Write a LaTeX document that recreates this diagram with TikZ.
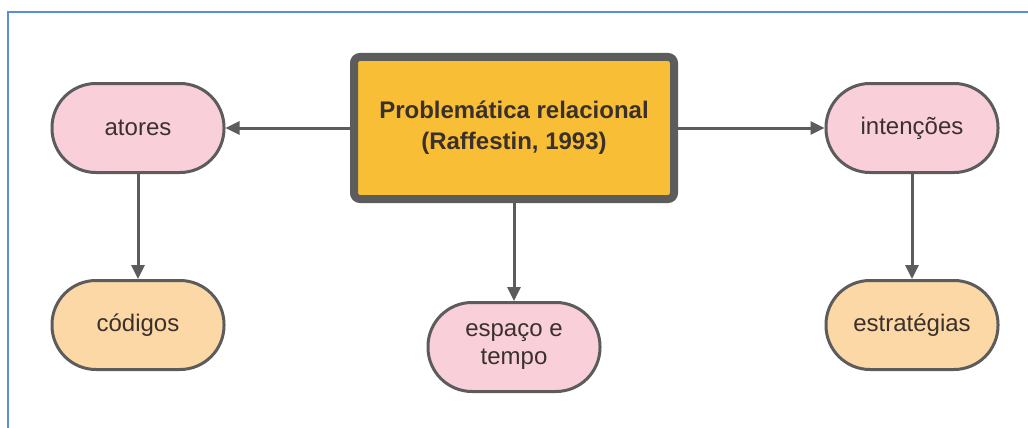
\documentclass[tikz,border=0pt]{standalone}
\usepackage{fontspec}
\setmainfont{Liberation Sans}
\usetikzlibrary{arrows.meta}
\definecolor{pinkfill}{HTML}{F9CFDA}
\definecolor{peachfill}{HTML}{FCD8A6}
\definecolor{goldfill}{HTML}{F8BE35}
\definecolor{edgegray}{HTML}{5C5C5C}
\definecolor{framblue}{HTML}{5A8ED6}
\definecolor{txt}{HTML}{3A302C}
\begin{document}
\begin{tikzpicture}[x=1pt,y=-1pt,
  pill/.style={draw=edgegray,line width=3pt,rounded corners=44pt,minimum width=172pt,minimum height=89pt,inner sep=0pt,align=center,text=txt,font=\fontsize{24}{28}\selectfont},
  pinkpill/.style={pill,fill=pinkfill},
  peachpill/.style={pill,fill=peachfill},
  mainbox/.style={draw=edgegray,line width=8pt,rounded corners=6pt,fill=goldfill,minimum width=320pt,minimum height=142pt,inner sep=0pt,align=center,text=txt,font=\bfseries\fontsize{24}{31}\selectfont},
  conn/.style={draw=edgegray,line width=3pt,-{Triangle[length=14pt,width=13pt]}}]
\useasboundingbox (0,0) rectangle (1028,428);
\fill[white] (0,0) rectangle (1028,428);
\draw[framblue,line width=2pt] (8,428) -- (8,12) -- (1028,12);
\node[mainbox] (main) at (514,128) {Problemática relacional\\(Raffestin, 1993)};
\node[pinkpill] (atores) at (138,128) {atores};
\node[pinkpill] (intencoes) at (912,128) {intenções};
\node[peachpill] (codigos) at (138,325) {códigos};
\node[peachpill] (estrategias) at (912,325) {estratégias};
\node[pinkpill] (espaco) at (514,347) {espaço e\\tempo};
\draw[conn] (main.west) -- (atores.east);
\draw[conn] (main.east) -- (intencoes.west);
\draw[conn] (main.south) -- (espaco.north);
\draw[conn] (atores.south) -- (codigos.north);
\draw[conn] (intencoes.south) -- (estrategias.north);
\end{tikzpicture}
\end{document}
